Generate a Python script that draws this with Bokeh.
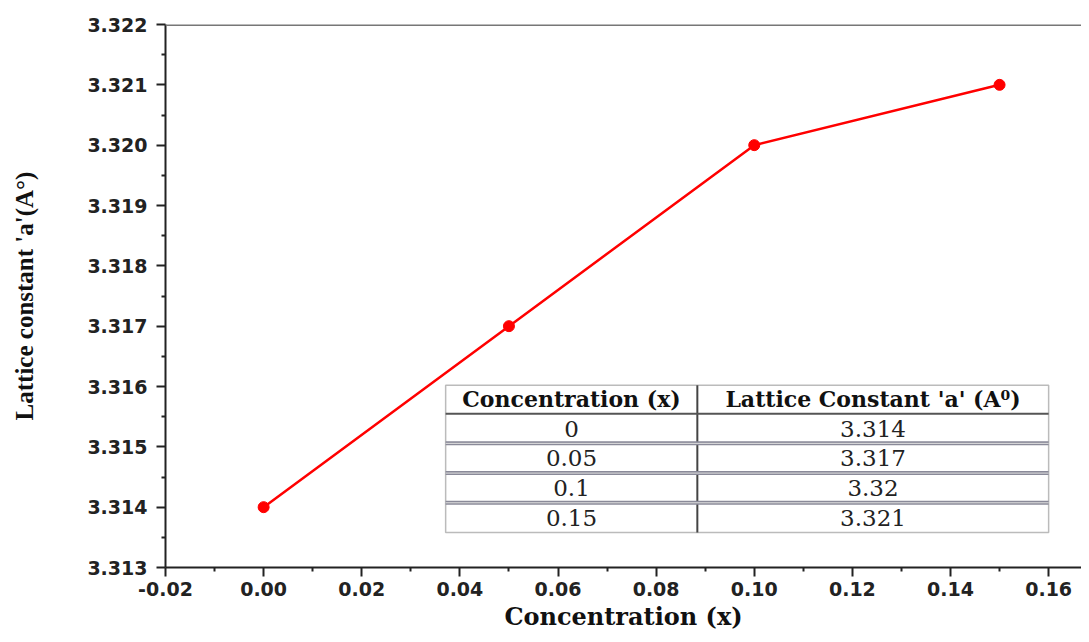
from bokeh.plotting import figure
from bokeh.models import FixedTicker, NumeralTickFormatter, Range1d, Span
from bokeh.core.properties import value
from bokeh.embed import file_html
from bokeh.resources import INLINE

# ---- data ----
concentration = [0.0, 0.05, 0.10, 0.15]
lattice_a = [3.314, 3.317, 3.320, 3.321]

table_col1 = ["0", "0.05", "0.1", "0.15"]
table_col2 = ["3.314", "3.317", "3.32", "3.321"]
table_headers = ["Concentration (x)", "Lattice Constant 'a' (A\u2070)"]

x_ticks = [-0.02, 0.00, 0.02, 0.04, 0.06, 0.08, 0.10, 0.12, 0.14, 0.16]
x_minor = [-0.01, 0.01, 0.03, 0.05, 0.07, 0.09, 0.11, 0.13, 0.15]
y_ticks = [3.313, 3.314, 3.315, 3.316, 3.317, 3.318, 3.319, 3.320, 3.321, 3.322]
y_minor = [3.3135, 3.3145, 3.3155, 3.3165, 3.3175, 3.3185, 3.3195, 3.3205, 3.3215]

x_title = "Concentration (x)"
y_title = "Lattice constant 'a'(A\u00b0)"

# ---- figure ----
p = figure(width=1081, height=634, output_backend="svg", toolbar_location=None,
           x_range=Range1d(-0.02, 0.1667), y_range=Range1d(3.313, 3.322),
           min_border_left=165, min_border_right=0, min_border_top=24, min_border_bottom=67)
p.outline_line_color = None
p.grid.visible = False
p.background_fill_color = "white"

for ax in (p.xaxis[0], p.yaxis[0]):
    ax.major_tick_out = 9
    ax.major_tick_in = 0
    ax.minor_tick_out = 4
    ax.minor_tick_in = 0
    ax.axis_line_width = 2
    ax.axis_line_color = "#222222"
    ax.major_tick_line_width = 2
    ax.minor_tick_line_width = 2
    ax.major_tick_line_color = "#222222"
    ax.minor_tick_line_color = "#222222"
    ax.major_label_text_font = "DejaVu Sans"
    ax.major_label_text_font_style = "bold"
    ax.major_label_text_font_size = "19px"
    ax.major_label_text_color = "#222222"

p.xaxis.ticker = FixedTicker(ticks=x_ticks, minor_ticks=x_minor)
p.yaxis.ticker = FixedTicker(ticks=y_ticks, minor_ticks=y_minor)
p.xaxis.formatter = NumeralTickFormatter(format="0.00")
p.yaxis.formatter = NumeralTickFormatter(format="0.000")
p.xaxis.major_label_standoff = 5
p.yaxis.major_label_standoff = 9

p.xaxis.axis_label = x_title
p.xaxis.axis_label_text_font = "DejaVu Serif"
p.xaxis.axis_label_text_font_style = "bold"
p.xaxis.axis_label_text_font_size = "24px"
p.xaxis.axis_label_text_color = "#111111"
p.xaxis.axis_label_standoff = 3

p.yaxis.axis_label = y_title
p.yaxis.axis_label_text_font = "Liberation Serif"
p.yaxis.axis_label_text_font_style = "bold"
p.yaxis.axis_label_text_font_size = "25px"
p.yaxis.axis_label_text_color = "#111111"
p.yaxis.axis_label_standoff = 46

# top border line
p.add_layout(Span(location=3.322, dimension="width", line_color="#777777", line_width=3))

# ---- series ----
p.line(concentration, lattice_a, line_color="red", line_width=2.5)
p.scatter(concentration, lattice_a, size=11, fill_color="red", line_color="red")

# ---- inset table (layout in data coordinates) ----
tx0, tx1, tx2 = 0.0371, 0.0884, 0.160
ty_top = 3.31602
ty_head = 3.31555
row_h = (ty_head - 3.31358) / len(table_col1)
ty_bot = ty_head - row_h * len(table_col1)

p.quad(left=[tx0], right=[tx2], top=[ty_top], bottom=[ty_bot],
       fill_color="white", line_color="#bbbbbb", line_width=1.5)
# column divider
p.segment(x0=[tx1], y0=[ty_top], x1=[tx1], y1=[ty_bot], line_color="#444444", line_width=2)
# header bottom line
p.segment(x0=[tx0], y0=[ty_head], x1=[tx2], y1=[ty_head], line_color="#555555", line_width=2)
# row separators (double gray lines)
seps = [ty_head - row_h * (i + 1) for i in range(len(table_col1) - 1)]
p.segment(x0=[tx0] * len(seps), y0=seps, x1=[tx2] * len(seps), y1=seps,
          line_color="#8a8a99", line_width=4)
p.segment(x0=[tx0] * len(seps), y0=seps, x1=[tx2] * len(seps), y1=seps,
          line_color="#e0e0e0", line_width=1)

# header text
p.text(x=[(tx0 + tx1) / 2, (tx1 + tx2) / 2], y=[(ty_top + ty_head) / 2] * 2, text=table_headers,
       text_font=value("DejaVu Serif"), text_font_style="bold", text_font_size="22px",
       text_align="center", text_baseline="middle", text_color="#111111")
row_y = [ty_head - row_h * (i + 0.5) for i in range(len(table_col1))]
p.text(x=[(tx0 + tx1) / 2] * len(table_col1), y=row_y, text=table_col1,
       text_font=value("DejaVu Serif"), text_font_size="23px",
       text_align="center", text_baseline="middle", text_color="#222222")
p.text(x=[(tx1 + tx2) / 2] * len(table_col2), y=row_y, text=table_col2,
       text_font=value("DejaVu Serif"), text_font_size="23px",
       text_align="center", text_baseline="middle", text_color="#222222")

open("out.html", "w").write(file_html(p, INLINE))
